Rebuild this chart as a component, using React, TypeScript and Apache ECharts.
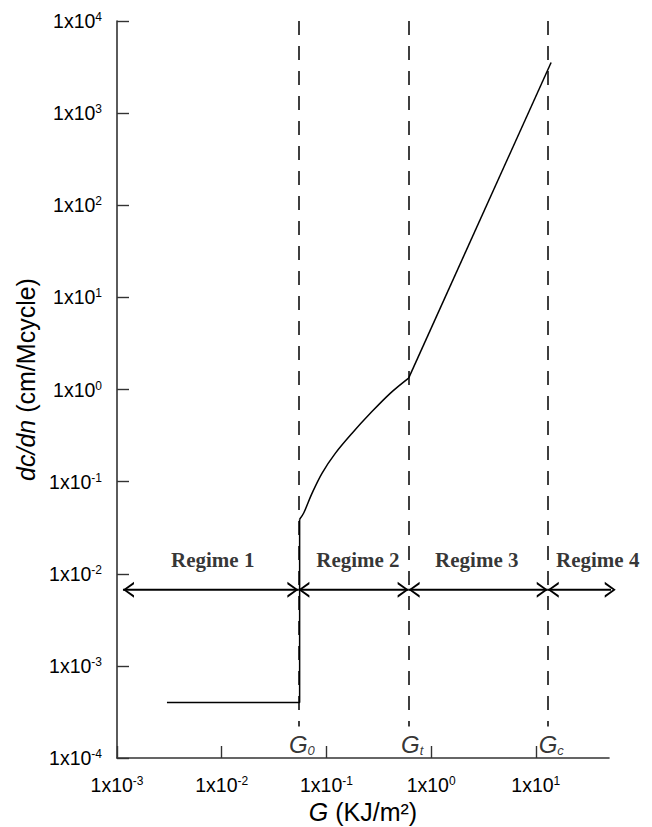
import { useEffect, useRef } from 'react';
import * as echarts from 'echarts';

// Fatigue crack growth rate dc/dn against tearing energy G, log–log axes.
const xExponents = [-3, -2, -1, 0, 1];
const yExponents = [-4, -3, -2, -1, 0, 1, 2, 3, 4];

// Characteristic tearing energies (KJ/m²): threshold, transition, critical
const thresholdSubscripts = ['0', 't', 'c'];
const thresholdG = [0.054, 0.61, 13];

// Regime 1: constant rate below G0, then the jump at G0
const plateauG = [0.003, 0.0555, 0.0555];
const plateauRate = [4e-4, 4e-4, 0.039];

// Regime 2: curved transition region
const transitionG = [0.0555, 0.0607, 0.073, 0.091, 0.122, 0.176, 0.264, 0.409, 0.61];
const transitionRate = [0.039, 0.0456, 0.075, 0.124, 0.204, 0.336, 0.555, 0.914, 1.33];

// Regime 3: power law
const powerLawG = [0.61, 14];
const powerLawRate = [1.33, 3550];

// Regime annotations
const regimeNames = ['Regime 1', 'Regime 2', 'Regime 3', 'Regime 4'];
const regimeFrom = [0.00114, 0.054, 0.61, 13];
const regimeTo = [0.054, 0.61, 13, 58];
const regimeLabelG = [0.0082, 0.2, 2.73, 39];

const arrowRate = 0.0067;
const regimeLabelRate = 0.014;
const thresholdLabelRate = 1.4e-4;
const guideTop = 1e4;
const guideBottom = 2.2e-4;

const SANS = 'Liberation Sans, Arial, sans-serif';
const SERIF = 'Liberation Serif, Times New Roman, serif';
const AXIS_COLOR = '#333';

const zip = (xs: number[], ys: number[]) => xs.map((x, i) => [x, ys[i]]);

const powerLabel = (v: number) => {
  const e = Math.log10(v);
  if (Math.abs(e - Math.round(e)) > 1e-6) return '';
  return `{m|1x10}{e|${Math.round(e)}}`;
};

const tickRich = {
  m: { fontSize: 19.5, fontFamily: SANS, color: '#000' },
  e: { fontSize: 12, fontFamily: SANS, color: '#000', verticalAlign: 'top', lineHeight: 13 },
};

const LEFT_HEAD = 'path://M11,0 L0,8 L11,16 L11,13.6 L3,8 L11,2.4 Z';
const RIGHT_HEAD = 'path://M0,0 L11,8 L0,16 L0,13.6 L8,8 L0,2.4 Z';

function buildOption() {
  const xTicks = xExponents.map((e) => Math.pow(10, e));
  const yTicks = yExponents.map((e) => Math.pow(10, e));

  const curveStyle = { color: '#000', width: 1.5 };

  const arrowSeries = regimeNames.map((name, i) => ({
    type: 'line',
    name: name + ' span',
    silent: true,
    clip: false,
    lineStyle: { color: '#000', width: 1.8 },
    itemStyle: { color: '#000' },
    symbolSize: [11, 16],
    data: [
      { value: [regimeFrom[i], arrowRate], symbol: LEFT_HEAD, symbolOffset: [5.5, 0] },
      { value: [regimeTo[i], arrowRate], symbol: RIGHT_HEAD, symbolOffset: [-5.5, 0] },
    ],
  }));

  return {
    animation: false,
    backgroundColor: '#fff',
    textStyle: { fontFamily: SANS },
    grid: { left: 117, right: 43, top: 21, bottom: 69, containLabel: false, outerBoundsMode: 'none' },
    xAxis: {
      type: 'log',
      logBase: 10,
      min: 1e-3,
      max: 50,
      name: '{i|G} (KJ/m²)',
      nameLocation: 'middle',
      nameGap: 36,
      nameTextStyle: {
        fontSize: 25,
        fontFamily: SANS,
        color: '#000',
        rich: { i: { fontSize: 25, fontFamily: SANS, fontStyle: 'italic', color: '#000' } },
      },
      axisLine: { show: true, onZero: false, lineStyle: { color: AXIS_COLOR, width: 1.6 } },
      axisTick: { show: true, inside: true, length: 12, customValues: xTicks, lineStyle: { color: AXIS_COLOR, width: 1.4 } },
      axisLabel: { show: true, margin: 17, formatter: powerLabel, rich: tickRich, customValues: xTicks },
      splitLine: { show: false },
      minorTick: { show: false },
    },
    yAxis: {
      type: 'log',
      logBase: 10,
      min: 1e-4,
      max: 1e4,
      name: '{i|dc/dn} (cm/Mcycle)',
      nameLocation: 'middle',
      nameGap: 78,
      nameRotate: 90,
      nameTextStyle: {
        fontSize: 25,
        fontFamily: SANS,
        color: '#000',
        padding: [0, 0, 0, 20],
        rich: { i: { fontSize: 25, fontFamily: SANS, fontStyle: 'italic', color: '#000' } },
      },
      axisLine: { show: true, onZero: false, lineStyle: { color: AXIS_COLOR, width: 1.6 } },
      axisTick: { show: true, inside: true, length: 12, customValues: yTicks, lineStyle: { color: AXIS_COLOR, width: 1.4 } },
      axisLabel: { show: true, margin: 15, formatter: powerLabel, rich: tickRich, customValues: yTicks },
      splitLine: { show: false },
      minorTick: { show: false },
    },
    series: [
      {
        type: 'line',
        name: 'Regime 1',
        silent: true,
        showSymbol: false,
        symbol: 'none',
        lineStyle: curveStyle,
        data: zip(plateauG, plateauRate),
      },
      {
        type: 'line',
        name: 'Regime 2',
        silent: true,
        showSymbol: false,
        symbol: 'none',
        smooth: 0.35,
        lineStyle: curveStyle,
        data: zip(transitionG, transitionRate),
      },
      {
        type: 'line',
        name: 'Regime 3',
        silent: true,
        showSymbol: false,
        symbol: 'none',
        lineStyle: curveStyle,
        data: zip(powerLawG, powerLawRate),
        markLine: {
          silent: true,
          symbol: ['none', 'none'],
          label: { show: false },
          lineStyle: { type: [14, 11], color: '#000', width: 1.5 },
          data: thresholdG.map((g) => [{ coord: [g, guideTop] }, { coord: [g, guideBottom] }]),
        },
      },
      ...arrowSeries,
      {
        type: 'scatter',
        name: 'regime labels',
        silent: true,
        symbolSize: 1,
        itemStyle: { color: 'rgba(0,0,0,0)' },
        label: {
          show: true,
          position: 'inside',
          formatter: '{b}',
          fontFamily: SERIF,
          fontWeight: 'bold',
          fontSize: 21,
          color: '#000',
        },
        data: regimeNames.map((name, i) => ({ name, value: [regimeLabelG[i], regimeLabelRate] })),
      },
      {
        type: 'scatter',
        name: 'threshold labels',
        silent: true,
        symbolSize: 1,
        itemStyle: { color: 'rgba(0,0,0,0)' },
        label: {
          show: true,
          position: 'inside',
          offset: [3.5, 0],
          formatter: (p: any) => `{g|G}{s|${p.name}}`,
          rich: {
            g: { fontSize: 24, fontFamily: SANS, fontStyle: 'italic', color: '#000', lineHeight: 24 },
            s: { fontSize: 13, fontFamily: SANS, fontStyle: 'italic', color: '#000', verticalAlign: 'bottom', lineHeight: 8 },
          },
        },
        data: thresholdSubscripts.map((name, i) => ({ name, value: [thresholdG[i], thresholdLabelRate] })),
      },
    ],
  };
}

export default function App() {
  const ref = useRef<HTMLDivElement>(null);
  useEffect(() => {
    if (!ref.current) return;
    const chart = echarts.init(ref.current, undefined, { renderer: 'svg' });
    chart.setOption(buildOption() as any);
    return () => chart.dispose();
  }, []);
  return (
    <div
      ref={ref}
      style={{ position: 'fixed', left: 0, top: 0, width: 652, height: 827, background: '#fff' }}
    />
  );
}
